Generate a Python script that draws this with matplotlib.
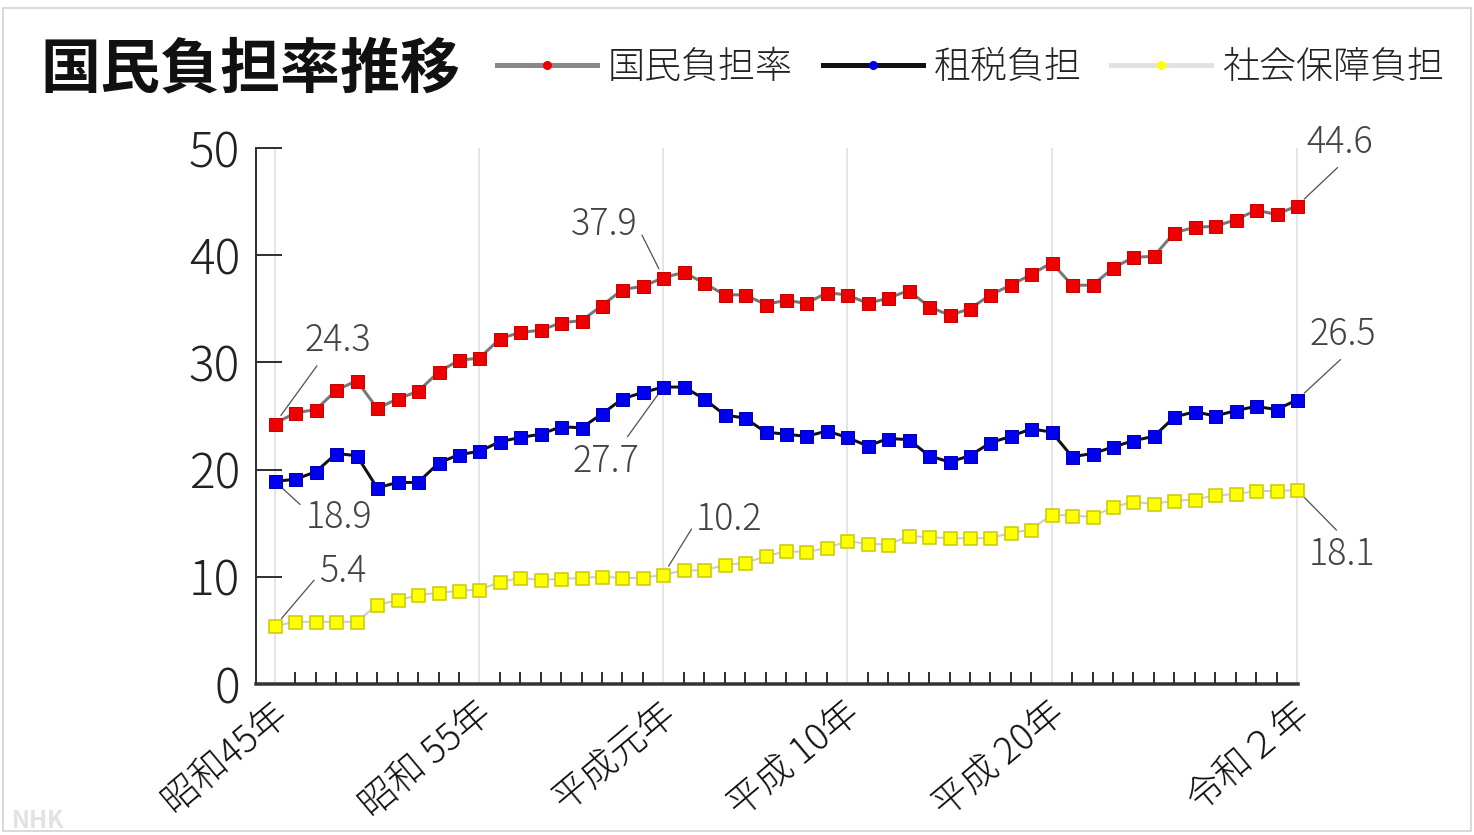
import matplotlib
matplotlib.use('Agg')
import matplotlib.pyplot as plt
from matplotlib.lines import Line2D
from matplotlib.patches import Rectangle

plt.rcParams['font.family'] = ['Noto Sans CJK JP', 'DejaVu Sans']

# Data (fiscal years, percent of national income)
years = list(range(1970, 2021))
kokumin = [24.3, 25.3, 25.6, 27.4, 28.3, 25.7, 26.6, 27.3, 29.1, 30.2,
           30.4, 32.2, 32.8, 33.0, 33.7, 33.9, 35.3, 36.8, 37.1, 37.9,
           38.4, 37.4, 36.3, 36.3, 35.4, 35.8, 35.5, 36.5, 36.3, 35.5,
           36.0, 36.7, 35.2, 34.4, 35.0, 36.3, 37.2, 38.2, 39.3, 37.2,
           37.2, 38.8, 39.8, 39.9, 42.1, 42.6, 42.7, 43.3, 44.2, 43.8,
           44.6]
sozei = [18.9, 19.1, 19.8, 21.5, 21.3, 18.3, 18.8, 18.8, 20.6, 21.4,
         21.7, 22.6, 23.0, 23.3, 24.0, 23.9, 25.2, 26.6, 27.2, 27.7,
         27.7, 26.6, 25.1, 24.8, 23.5, 23.3, 23.1, 23.6, 23.0, 22.2,
         22.9, 22.8, 21.3, 20.7, 21.3, 22.5, 23.1, 23.8, 23.5, 21.2,
         21.5, 22.1, 22.7, 23.1, 24.9, 25.4, 25.0, 25.5, 25.9, 25.6,
         26.5]
shakai = [5.4, 5.8, 5.8, 5.8, 5.8, 7.4, 7.8, 8.3, 8.5, 8.7,
          8.8, 9.5, 9.9, 9.7, 9.8, 9.9, 10.0, 9.9, 9.9, 10.2,
          10.6, 10.6, 11.1, 11.3, 11.9, 12.4, 12.3, 12.7, 13.3, 13.1,
          13.0, 13.8, 13.7, 13.6, 13.6, 13.6, 14.1, 14.4, 15.8, 15.7,
          15.6, 16.5, 17.0, 16.8, 17.1, 17.2, 17.6, 17.7, 18.0, 18.0,
          18.1]
label_years = [1970, 1980, 1989, 1998, 2008, 2020]
label_names = ['昭和45年', '昭和 55年', '平成元年', '平成 10年', '平成 20年', '令和２年']
series_names = ['国民負担率', '租税負担', '社会保障負担']
y_ticks = [0, 10, 20, 30, 40, 50]

W, H = 1474, 835
fig = plt.figure(figsize=(W / 72, H / 72), dpi=72)
fig.patch.set_facecolor('white')
ax = fig.add_axes([256 / W, 1 - 684 / H, (1298 - 256) / W, (684 - 148) / H])

# Series
ax.plot(years, kokumin, color='#777777', lw=3, marker='s', ms=13,
        mfc='#ee0000', mec='#cc0000', mew=1, zorder=4, clip_on=False)
ax.plot(years, sozei, color='#111111', lw=3, marker='s', ms=13,
        mfc='#0000ee', mec='#0000bb', mew=1, zorder=4, clip_on=False)
ax.plot(years, shakai, color='#cccccc', lw=2, marker='s', ms=13,
        mfc='#ffff00', mec='#c8c800', mew=1.5, zorder=4, clip_on=False)

ax.set_xlim(1969.07, 2020.05)
ax.set_ylim(0, 50)

# Axes styling
for s in ['top', 'right']:
    ax.spines[s].set_visible(False)
ax.spines['left'].set_color('#333333')
ax.spines['left'].set_linewidth(2)
ax.spines['bottom'].set_color('#333333')
ax.spines['bottom'].set_linewidth(3.5)

ax.set_yticks(y_ticks)
ax.tick_params(axis='y', direction='in', length=26, width=2, color='#333333',
               labelsize=48, labelcolor='#222222', pad=16)
for t in ax.get_yticklabels():
    t.set_fontweight('light')
ax.set_xticks(label_years)
ax.set_xticklabels([])
ax.tick_params(axis='x', which='major', length=0)
ax.set_xticks([y for y in years if y not in label_years], minor=True)
ax.tick_params(axis='x', which='minor', direction='in', length=12, width=2,
               color='#333333')
ax.grid(True, axis='x', which='major', color='#dddddd', lw=1.5)
ax.set_axisbelow(True)

for yr, name in zip(label_years, label_names):
    ax.annotate(name, xy=(yr, 0), xycoords=('data', 'axes fraction'),
                xytext=(8, -25), textcoords='offset pixels', rotation=40,
                ha='right', va='center', rotation_mode='anchor',
                fontsize=37, fontweight='light', color='#111111',
                annotation_clip=False)

# Value callouts: (series, year, dx, dy, relpos)
callouts = [
    (kokumin, 1970, 63, 83, (0.25, 0)),
    (sozei, 1970, 64, -36, (0, 0.7)),
    (shakai, 1970, 68, 54, (0, 0.45)),
    (kokumin, 1989, -59, 53, (1, 0.45)),
    (sozei, 1989, -57, -75, (0.75, 1)),
    (shakai, 1989, 66, 55, (0, 0.45)),
    (kokumin, 2020, 43, 63, (0.55, 0)),
    (sozei, 2020, 46, 65, (0.55, 0)),
    (shakai, 2020, 45, -65, (0.5, 1)),
]
for data, yr, dx, dy, rp in callouts:
    v = data[years.index(yr)]
    ax.annotate(f'{v:.1f}', xy=(yr, v), xytext=(dx, dy),
                textcoords='offset pixels', ha='center', va='center',
                fontsize=36, fontweight='light', color='#444444',
                annotation_clip=False,
                arrowprops=dict(arrowstyle='-', color='#555555', lw=1.3,
                                relpos=rp, shrinkA=5, shrinkB=10))

# Title and legend
fig.text(40 / W, 1 - 70 / H, '国民負担率推移', fontsize=60, fontweight='bold',
         ha='left', va='center', color='#111111')
handles = [
    Line2D([], [], color='#888888', lw=5, marker='o', ms=8, mfc='#ee0000', mec='#ee0000'),
    Line2D([], [], color='#111111', lw=5, marker='o', ms=8, mfc='#0000ee', mec='#0000ee'),
    Line2D([], [], color='#e2e2e2', lw=5, marker='o', ms=8, mfc='#ffff00', mec='#ffff00'),
]
leg = fig.legend(handles, series_names, loc='center left', ncol=3,
                 bbox_to_anchor=(497 / W, 1 - 68 / H), frameon=False,
                 handlelength=2.7, handletextpad=0.3,
                 columnspacing=0.8, borderpad=0, borderaxespad=0,
                 prop={'weight': 'light', 'size': 37})
for t in leg.get_texts():
    t.set_color('#222222')

# Frame and watermark
fig.patches.append(Rectangle((3 / W, 4 / H), (W - 6) / W, (H - 12) / H,
                             transform=fig.transFigure, fill=False,
                             edgecolor='#cfcfcf', lw=1.5))
fig.text(12 / W, 1 - 821 / H, 'NHK', fontsize=24, fontstyle='italic',
         fontweight='bold', color='#e2e2e2', ha='left', va='center')

fig.savefig('out.png', dpi=72)
